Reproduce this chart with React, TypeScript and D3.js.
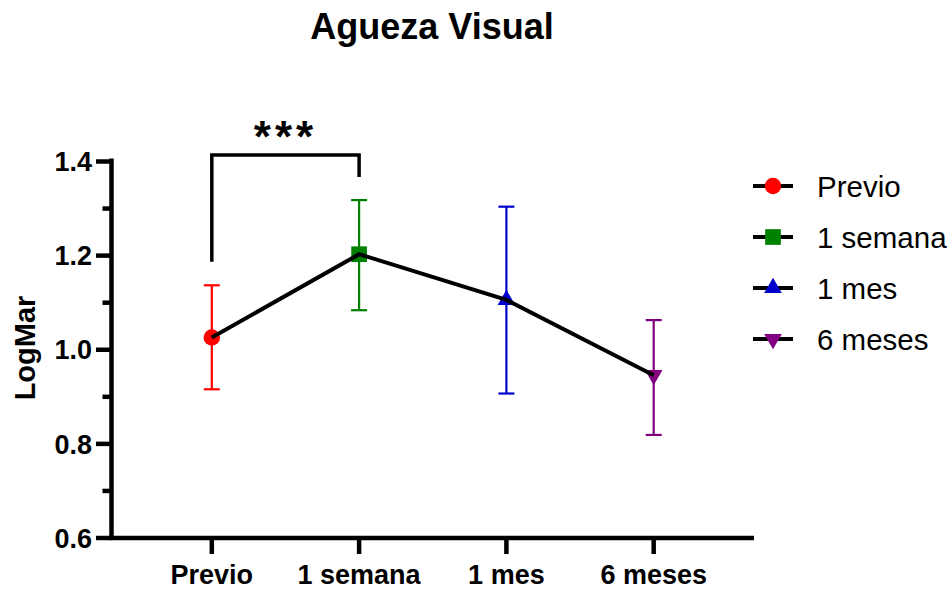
import React, { useRef, useEffect } from 'react';
import {
  select,
  scaleLinear,
  scalePoint,
  line,
  symbol,
  symbolCircle,
  symbolSquare,
  symbolTriangle,
} from 'd3';

const categories = ['Previo', '1 semana', '1 mes', '6 meses'];
const means = [1.026, 1.203, 1.106, 0.946];
const errLow = [0.916, 1.084, 0.907, 0.819];
const errHigh = [1.137, 1.318, 1.304, 1.063];
const yTicks = [0.6, 0.8, 1.0, 1.2, 1.4];
const yMinorTicks = [0.7, 0.9, 1.1, 1.3];
// significance bracket Previo vs 1 semana
const bracketPair = ['Previo', '1 semana'];
const bracketLegs = [1.187, 1.367];
const bracketTop = 1.414;
const bracketLabel = '***';

const colors = ['#ff0000', '#008000', '#0000cc', '#800080'];
const shapes = [symbolCircle, symbolSquare, symbolTriangle, symbolTriangle];
const shapeSizes = [214, 246, 135, 135];
const rotations = [0, 0, 0, 180];

const FONT = '"Liberation Sans", Arial, sans-serif';

const Chart = () => {
  const svgRef = useRef(null);

  useEffect(() => {
    const svg = select(svgRef.current);
    svg.selectAll('*').remove();

    const left = 111.5;
    const right = 754;
    const top = 161.5;
    const bottom = 538;

    const xScale = scalePoint().domain(categories).range([left, right]).padding(0.681);
    const yScale = scaleLinear().domain([0.6, 1.4]).range([bottom, top]);

    // title
    svg
      .append('text')
      .attr('x', 432)
      .attr('y', 39)
      .attr('text-anchor', 'middle')
      .attr('font-family', FONT)
      .attr('font-weight', 'bold')
      .attr('font-size', 36)
      .text('Agueza Visual');

    // y axis
    const yAxis = svg.append('g');
    yAxis
      .append('line')
      .attr('x1', left)
      .attr('x2', left)
      .attr('y1', top - 3)
      .attr('y2', bottom + 2)
      .attr('stroke', '#000')
      .attr('stroke-width', 4.5);
    yAxis
      .selectAll('.major')
      .data(yTicks)
      .join('line')
      .attr('class', 'major')
      .attr('x1', left - 15.5)
      .attr('x2', left)
      .attr('y1', (d) => yScale(d))
      .attr('y2', (d) => yScale(d))
      .attr('stroke', '#000')
      .attr('stroke-width', 4.5);
    yAxis
      .selectAll('.minor')
      .data(yMinorTicks)
      .join('line')
      .attr('class', 'minor')
      .attr('x1', left - 9)
      .attr('x2', left)
      .attr('y1', (d) => yScale(d))
      .attr('y2', (d) => yScale(d))
      .attr('stroke', '#000')
      .attr('stroke-width', 4.5);
    yAxis
      .selectAll('.lbl')
      .data(yTicks)
      .join('text')
      .attr('class', 'lbl')
      .attr('x', 92)
      .attr('y', (d) => yScale(d) + 9.7)
      .attr('text-anchor', 'end')
      .attr('font-family', FONT)
      .attr('font-weight', 'bold')
      .attr('font-size', 27)
      .text((d) => d.toFixed(1));

    svg
      .append('text')
      .attr('transform', `translate(35,348) rotate(-90)`)
      .attr('text-anchor', 'middle')
      .attr('font-family', FONT)
      .attr('font-weight', 'bold')
      .attr('font-size', 29)
      .text('LogMar');

    // x axis
    const xAxis = svg.append('g');
    xAxis
      .append('line')
      .attr('x1', left - 2)
      .attr('x2', right)
      .attr('y1', bottom)
      .attr('y2', bottom)
      .attr('stroke', '#000')
      .attr('stroke-width', 4.5);
    xAxis
      .selectAll('.tick')
      .data(categories)
      .join('line')
      .attr('class', 'tick')
      .attr('x1', (d) => xScale(d))
      .attr('x2', (d) => xScale(d))
      .attr('y1', bottom)
      .attr('y2', bottom + 16)
      .attr('stroke', '#000')
      .attr('stroke-width', 4.5);
    xAxis
      .selectAll('.lbl')
      .data(categories)
      .join('text')
      .attr('class', 'lbl')
      .attr('x', (d) => xScale(d))
      .attr('y', 584)
      .attr('text-anchor', 'middle')
      .attr('font-family', FONT)
      .attr('font-weight', 'bold')
      .attr('font-size', 27)
      .text((d) => d);

    // error bars
    const eb = svg.append('g');
    categories.forEach((c, i) => {
      const x = xScale(c);
      const g = eb.append('g').attr('stroke', colors[i]).attr('stroke-width', 2.2);
      g.append('line').attr('x1', x).attr('x2', x).attr('y1', yScale(errLow[i])).attr('y2', yScale(errHigh[i]));
      g.append('line').attr('x1', x - 8).attr('x2', x + 8).attr('y1', yScale(errLow[i])).attr('y2', yScale(errLow[i]));
      g.append('line').attr('x1', x - 8).attr('x2', x + 8).attr('y1', yScale(errHigh[i])).attr('y2', yScale(errHigh[i]));
    });

    // markers
    svg
      .selectAll('.marker')
      .data(means)
      .join('path')
      .attr('class', 'marker')
      .attr('d', (d, i) => symbol(shapes[i], shapeSizes[i])())
      .attr('transform', (d, i) => `translate(${xScale(categories[i])},${yScale(d)}) rotate(${rotations[i]})`)
      .attr('fill', (d, i) => colors[i]);

    // mean line
    const meanLine = line()
      .x((d, i) => xScale(categories[i]))
      .y((d) => yScale(d));
    svg
      .append('path')
      .attr('d', meanLine(means))
      .attr('fill', 'none')
      .attr('stroke', '#000')
      .attr('stroke-width', 4);

    // significance bracket
    const bx1 = xScale(bracketPair[0]);
    const bx2 = xScale(bracketPair[1]);
    svg
      .append('path')
      .attr(
        'd',
        `M${bx1},${yScale(bracketLegs[0])}V${yScale(bracketTop)}H${bx2}V${yScale(bracketLegs[1])}`
      )
      .attr('fill', 'none')
      .attr('stroke', '#000')
      .attr('stroke-width', 3.5);
    svg
      .append('text')
      .attr('x', (bx1 + bx2) / 2)
      .attr('y', 152)
      .attr('text-anchor', 'middle')
      .attr('font-family', FONT)
      .attr('font-weight', 'bold')
      .attr('font-size', 44)
      .attr('letter-spacing', 4)
      .text(bracketLabel);

    // legend
    const legend = svg.append('g');
    const legendY = (i) => 186 + i * 51;
    categories.forEach((c, i) => {
      const g = legend.append('g').attr('transform', `translate(0,${legendY(i)})`);
      g.append('line').attr('x1', 753).attr('x2', 793).attr('y1', 0).attr('y2', 0).attr('stroke', '#000').attr('stroke-width', 4);
      g.append('path')
        .attr('d', symbol(shapes[i], shapeSizes[i])())
        .attr('transform', `translate(773,0) rotate(${rotations[i]})`)
        .attr('fill', colors[i]);
      g.append('text')
        .attr('x', 817)
        .attr('y', 10.5)
        .attr('font-family', FONT)
        .attr('font-size', 29.5)
        .text(c);
    });
  }, []);

  return <svg ref={svgRef} width={952} height={589} style={{ position: 'absolute', left: 0, top: 0 }} />;
};

export default function App() {
  return (
    <div>
      <Chart />
    </div>
  );
}
